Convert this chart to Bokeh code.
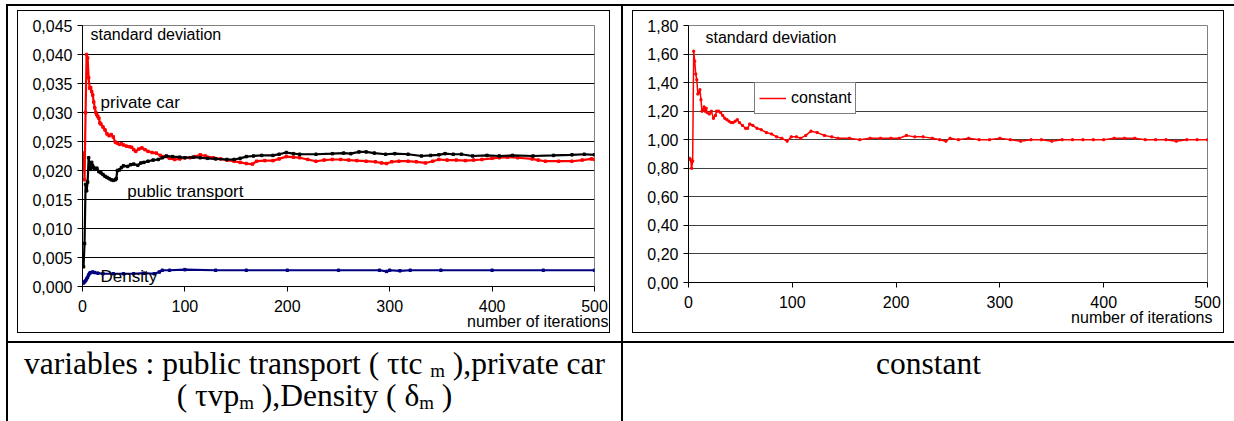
from bokeh.plotting import figure
from bokeh.models import Range1d, FixedTicker, Label, Div, Spacer, Title
from bokeh.layouts import row, column
from bokeh.embed import file_html
from bokeh.resources import INLINE

# ---------------- data ----------------
x_ticks = [0, 100, 200, 300, 400, 500]
x_tick_labels = ["0", "100", "200", "300", "400", "500"]

y_ticks_left = [0.0, 0.005, 0.01, 0.015, 0.02, 0.025, 0.03, 0.035, 0.04, 0.045]
y_labels_left = ["0,000", "0,005", "0,010", "0,015", "0,020", "0,025", "0,030", "0,035", "0,040", "0,045"]

y_ticks_right = [0.0, 0.2, 0.4, 0.6, 0.8, 1.0, 1.2, 1.4, 1.6, 1.8]
y_labels_right = ["0,00", "0,20", "0,40", "0,60", "0,80", "1,00", "1,20", "1,40", "1,60", "1,80"]

iter_private = [1, 2, 3, 4, 5, 6, 7, 8, 9, 10, 11, 12, 13, 14, 15, 16, 17, 18, 20, 22, 24, 26, 28, 30,
                32, 34, 36, 38, 40, 43, 46, 48, 50, 52, 55, 58, 61, 64, 68, 72, 76, 80, 85, 90, 95,
                100, 105, 110, 115, 120, 128, 135, 141, 148, 154, 160, 166, 170, 178, 186, 192, 199,
                206, 212, 220, 228, 236, 244, 252, 260, 268, 277, 286, 292, 297, 302, 309, 318, 326,
                335, 342, 348, 356, 365, 374, 382, 390, 400, 407, 415, 425, 439, 445, 452, 465, 478,
                488, 497, 500]
private_car = [0.0230, 0.0184, 0.0300, 0.0400, 0.0394, 0.0360, 0.0342, 0.0343, 0.0336, 0.0330, 0.0318,
               0.0308, 0.0300, 0.0296, 0.0293, 0.0290, 0.0282, 0.0280, 0.0275, 0.0270, 0.0263, 0.0260,
               0.0262, 0.0258, 0.0249, 0.0247, 0.0245, 0.0246, 0.0244, 0.0242, 0.0241, 0.0240, 0.0236,
               0.0233, 0.0237, 0.0239, 0.0236, 0.0233, 0.0231, 0.0230, 0.0226, 0.0224, 0.0221, 0.0219,
               0.0220, 0.0222, 0.0222, 0.0224, 0.0227, 0.0225, 0.0222, 0.0220, 0.0218, 0.0216, 0.0214,
               0.0212, 0.0211, 0.0216, 0.0217, 0.0217, 0.0220, 0.0224, 0.0223, 0.0222, 0.0219, 0.0216,
               0.0218, 0.0219, 0.0219, 0.0218, 0.0217, 0.0216, 0.0215, 0.0213, 0.0212, 0.0215, 0.0216,
               0.0216, 0.0215, 0.0213, 0.0216, 0.0219, 0.0218, 0.0218, 0.0217, 0.0218, 0.0219, 0.0221,
               0.0222, 0.0223, 0.0222, 0.0220, 0.0218, 0.0216, 0.0216, 0.0216, 0.0218, 0.0220, 0.0219]

iter_public = [1, 2, 3, 4, 5, 6, 7, 8, 9, 10, 11, 12, 14, 16, 18, 20, 22, 24, 26, 28, 30, 32, 33, 34,
               36, 38, 40, 44, 47, 50, 54, 57, 60, 64, 69, 74, 78, 82, 88, 95, 100, 108, 115, 122, 130,
               141, 148, 154, 160, 167, 175, 186, 192, 199, 206, 212, 228, 244, 255, 262, 270, 277,
               285, 296, 305, 318, 331, 340, 348, 354, 362, 370, 381, 395, 407, 420, 440, 460, 478,
               490, 500]
public_transport = [0.0034, 0.0074, 0.0176, 0.0165, 0.0180, 0.0222, 0.0210, 0.0202, 0.0214, 0.0208,
                    0.0205, 0.0202, 0.0204, 0.0198, 0.0196, 0.0193, 0.0190, 0.0188, 0.0186, 0.0184,
                    0.0183, 0.0184, 0.0186, 0.0200, 0.0201, 0.0205, 0.0208, 0.0207, 0.0210, 0.0211,
                    0.0209, 0.0213, 0.0214, 0.0216, 0.0218, 0.0219, 0.0222, 0.0225, 0.0224, 0.0223,
                    0.0222, 0.0223, 0.0222, 0.0221, 0.0220, 0.0219, 0.0219, 0.0221, 0.0224, 0.0225,
                    0.0226, 0.0226, 0.0228, 0.0231, 0.0229, 0.0228, 0.0228, 0.0229, 0.0230, 0.0229,
                    0.0232, 0.0232, 0.0230, 0.0228, 0.0229, 0.0228, 0.0225, 0.0226, 0.0227, 0.0229,
                    0.0228, 0.0228, 0.0225, 0.0226, 0.0225, 0.0226, 0.0225, 0.0226, 0.0227, 0.0228,
                    0.0227]

iter_density = [1, 2, 3, 4, 5, 6, 7, 8, 10, 12, 15, 20, 30, 40, 50, 60, 70, 75, 78, 85, 100, 130, 160,
                200, 250, 290, 297, 300, 310, 320, 350, 400, 450, 500]
density = [0.0006, 0.0008, 0.0010, 0.0013, 0.0016, 0.0020, 0.0023, 0.0024, 0.0025, 0.0024, 0.0023,
           0.0022, 0.0022, 0.0022, 0.0022, 0.0023, 0.0022, 0.0025, 0.0028, 0.0028, 0.0029, 0.0028,
           0.0028, 0.0028, 0.0028, 0.0028, 0.0026, 0.0028, 0.0027, 0.0028, 0.0028, 0.0028, 0.0028,
           0.0028]

iter_constant = [1, 2, 3, 4, 5, 6, 7, 8, 9, 10, 11, 12, 13, 14, 15, 16, 17, 18, 20, 22, 24, 26, 27, 29,
                 31, 33, 35, 37, 39, 41, 43, 45, 47, 49, 52, 55, 57, 59, 62, 66, 70, 75, 80, 85, 90, 95,
                 99, 104, 108, 113, 118, 124, 131, 138, 144, 155, 165, 175, 185, 195, 203, 210, 218, 226,
                 235, 242, 248, 252, 260, 270, 280, 290, 300, 310, 320, 330, 340, 350, 360, 370, 380,
                 390, 400, 410, 420, 430, 440, 450, 460, 470, 480, 490, 500]
constant = [0.87, 0.86, 0.80, 0.85, 1.62, 1.55, 1.46, 1.42, 1.32, 1.33, 1.35, 1.28, 1.20, 1.21, 1.23,
            1.20, 1.22, 1.19, 1.18, 1.20, 1.15, 1.17, 1.20, 1.20, 1.19, 1.17, 1.15, 1.14, 1.13, 1.12,
            1.12, 1.13, 1.14, 1.12, 1.10, 1.08, 1.08, 1.11, 1.10, 1.08, 1.07, 1.05, 1.04, 1.02, 1.01,
            0.99, 1.02, 1.02, 1.01, 1.03, 1.06, 1.05, 1.03, 1.02, 1.01, 1.01, 1.00, 1.01, 1.01, 1.01,
            1.01, 1.03, 1.02, 1.02, 1.01, 1.00, 0.99, 1.01, 1.00, 1.01, 1.00, 1.00, 1.01, 1.00, 0.99,
            1.00, 1.00, 0.99, 1.00, 1.00, 1.00, 1.00, 1.00, 1.01, 1.01, 1.01, 1.00, 1.00, 1.00, 0.99,
            1.00, 1.00, 1.00]

SANS = "Liberation Sans"
SERIF = "Liberation Serif"


def style_axes(p, yticks, ylabels, grid_color):
    p.xaxis.ticker = FixedTicker(ticks=x_ticks)
    p.xaxis.major_label_overrides = {t: l for t, l in zip(x_ticks, x_tick_labels)}
    yt = FixedTicker(ticks=yticks)
    p.yaxis.ticker = yt
    p.ygrid.ticker = yt
    p.yaxis.major_label_overrides = {t: l for t, l in zip(yticks, ylabels)}
    for ax in (p.xaxis, p.yaxis):
        ax.axis_line_color = "black"
        ax.axis_line_width = 1
        ax.major_tick_line_color = "black"
        ax.major_tick_out = 5
        ax.major_tick_in = 0
        ax.minor_tick_out = 0
        ax.minor_tick_in = 0
        ax.major_label_text_font = SANS
        ax.major_label_text_font_size = "16px"
        ax.major_label_text_color = "black"
    p.xaxis.major_label_standoff = 8
    p.yaxis.major_label_standoff = 5
    p.xgrid.visible = False
    p.ygrid.grid_line_color = grid_color
    p.ygrid.grid_line_width = 1


def add_label(p, x, y, text, size="16px"):
    p.add_layout(Label(x=x, y=y, text=text, text_font=SANS, text_font_size=size,
                       text_color="black", text_align="left", text_baseline="alphabetic"))


def add_xtitle(p, offset):
    p.add_layout(Title(text="number of iterations", align="right", text_font=SANS,
                       text_font_size="16px", text_font_style="normal", text_color="black",
                       standoff=-8, offset=offset), "below")


# ---------------- left chart ----------------
p1 = figure(width=591, height=321, x_range=Range1d(0, 500), y_range=Range1d(0, 0.045),
            output_backend="svg", toolbar_location=None,
            min_border_left=64, min_border_right=15, min_border_top=14, min_border_bottom=46,
            background_fill_color="white", border_fill_color="white",
            outline_line_color="#808080", outline_line_width=1)
style_axes(p1, y_ticks_left, y_labels_left, "black")

p1.line(iter_private, private_car, line_color="#ff0000", line_width=2.2)
p1.scatter(iter_private, private_car, marker="square", size=2.5, color="#ff0000")
p1.line(iter_public, public_transport, line_color="black", line_width=2.2)
p1.scatter(iter_public, public_transport, marker="square", size=2.5, color="black")
p1.line(iter_density, density, line_color="#000080", line_width=2.2)
p1.scatter(iter_density, density, marker="square", size=2.5, color="#000080")

add_label(p1, 7.8, 0.04345, "standard deviation")
add_label(p1, 17.6, 0.03175, "private car", "17px")
add_label(p1, 43.7, 0.01635, "public transport", "17px")
add_label(p1, 17.6, 0.00169, "Density", "17px")
add_xtitle(p1, -14)

# ---------------- right chart ----------------
p2 = figure(width=590, height=321, x_range=Range1d(0, 500), y_range=Range1d(0, 1.8),
            output_backend="svg", toolbar_location=None,
            min_border_left=55, min_border_right=16, min_border_top=14, min_border_bottom=50,
            background_fill_color="white", border_fill_color="white",
            outline_line_color="#808080", outline_line_width=1)
style_axes(p2, y_ticks_right, y_labels_right, "#404040")

p2.line(iter_constant, constant, line_color="#ff0000", line_width=1.5, legend_label="constant")
p2.scatter(iter_constant, constant, marker="square", size=2, color="#ff0000")

add_label(p2, 16.4, 1.7145, "standard deviation")
add_xtitle(p2, -5)

lg = p2.legend[0]
lg.location = (66, 168)
lg.border_line_color = "black"
lg.border_line_width = 1
lg.background_fill_color = "white"
lg.background_fill_alpha = 1
lg.label_text_font = SANS
lg.label_text_font_size = "16px"
lg.label_text_color = "black"
lg.padding = 4
lg.spacing = 0
lg.margin = 0
lg.glyph_width = 27
lg.glyph_height = 22
lg.label_height = 22
lg.label_standoff = 5


# ---------------- table layout ----------------
def black(w, h):
    return Div(text="", width=w, height=h, margin=0,
               styles={"background-color": "black"})


def framed(fig, w, h):
    mid = row(black(1, h - 2), fig, black(1, h - 2), spacing=0)
    return column(black(w, 1), mid, black(w, 1), spacing=0)


box1 = framed(p1, 593, 323)
box2 = framed(p2, 592, 323)

cell1 = column(Spacer(width=613, height=4),
               row(Spacer(width=9, height=323), box1, Spacer(width=11, height=323), spacing=0),
               Spacer(width=613, height=8), spacing=0)
cell2 = column(Spacer(width=611, height=4),
               row(Spacer(width=9, height=323), box2, Spacer(width=10, height=323), spacing=0),
               Spacer(width=611, height=8), spacing=0)

SUB = '<span style="font-size:60%;line-height:0;position:relative;top:3px">m</span>'
cap_style = {"font-family": SERIF, "font-size": "31.5px", "text-align": "center",
             "line-height": "32px", "color": "black"}
cap1 = Div(text='<div style="padding-top:5px">variables : public transport ( &tau;tc ' + SUB + ' ),private car<br>'
                '( &tau;vp' + SUB + ' ),Density ( &delta;' + SUB + ' )</div>',
           width=613, height=78, margin=0, styles=cap_style)
cap2 = Div(text='<div style="padding-top:5px">constant</div>',
           width=611, height=78, margin=0, styles=cap_style)

row0 = row(Spacer(width=6, height=2), black(1228, 2), spacing=0)
row1 = row(Spacer(width=6, height=335), black(2, 335), cell1, black(2, 335), cell2, spacing=0)
rowh = row(Spacer(width=6, height=2), black(1228, 2), spacing=0)
row2 = row(Spacer(width=6, height=78), black(2, 78), cap1, black(2, 78), cap2, spacing=0)

root = column(Spacer(width=1234, height=4), row0, row1, rowh, row2, spacing=0)

open("out.html", "w").write(file_html(root, INLINE))
